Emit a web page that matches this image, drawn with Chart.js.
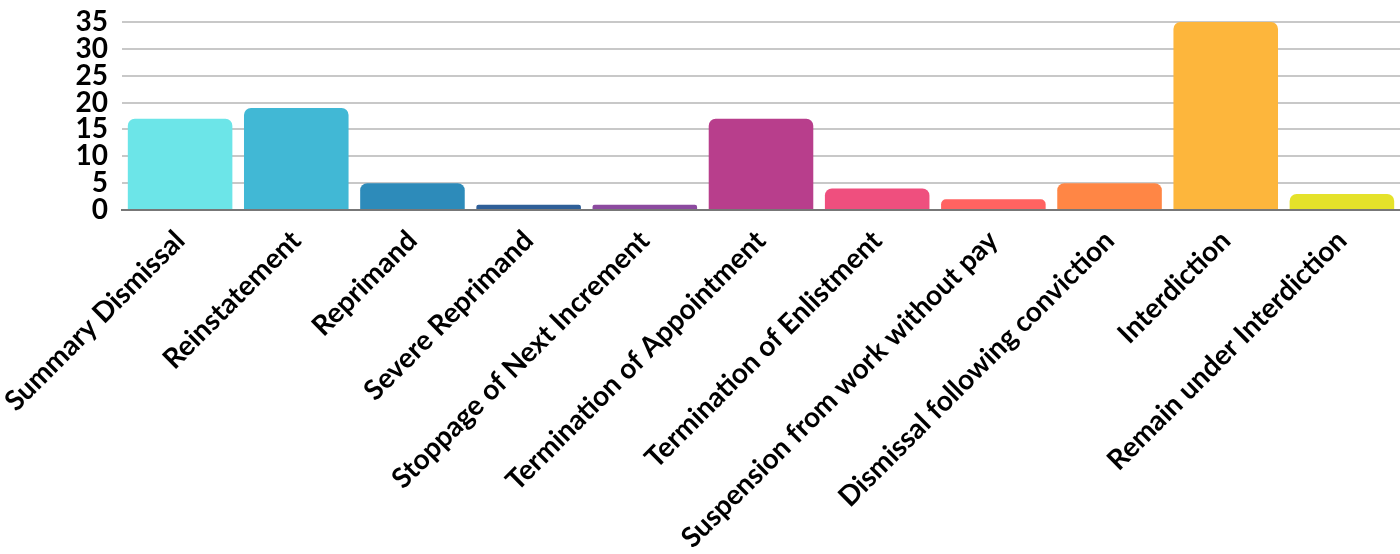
<!DOCTYPE html>
<html><head><meta charset="utf-8">
<script src="https://cdn.jsdelivr.net/npm/chart.js@4.4.1/dist/chart.umd.min.js"></script>
<style>html,body{margin:0;padding:0;background:#fff}#wrap{width:1400px;height:554px;position:relative}</style>
</head><body><div id="wrap"><canvas id="c"></canvas></div>
<script>
const categories = ["Summary Dismissal","Reinstatement","Reprimand","Severe Reprimand","Stoppage of Next Increment","Termination of Appointment","Termination of Enlistment","Suspension from work without pay","Dismissal following conviction","Interdiction","Remain under Interdiction"];
const values = [17,19,5,1,1,17,4,2,5,35,3];
const barColors = ["#6ce5e8","#41b8d5","#2d8bba","#2f5f98","#8c4a9f","#b83e8c","#ef4f7e","#ff6361","#ff8645","#fdb63c","#e5e22a"];
const yTicks = [0,5,10,15,20,25,30,35];

new Chart(document.getElementById('c'), {
  type: 'bar',
  data: { labels: categories, datasets: [{ data: values, backgroundColor: barColors, borderRadius: {topLeft:7,topRight:7}, borderSkipped: 'bottom', barPercentage: 0.9, categoryPercentage: 1 }] },
  options: {
    responsive: true, maintainAspectRatio: false, animation: false,
    layout: { padding: { top: 22, right: 0, left: 0, bottom: 0 } },
    plugins: { legend: { display: false }, tooltip: { enabled: false } },
    scales: {
      x: {
        afterFit: (s) => { s.height = 344; s.paddingLeft = 0; s.paddingRight = 0; s.paddingTop = 0; s.paddingBottom = 0; },
        grid: { display: false },
        border: { display: true, color: '#777', width: 2 },
        ticks: { color: '#000', font: { family: 'Lato', weight: 'bold', size: 28 }, maxRotation: 45, minRotation: 45, autoSkip: false, padding: 6 }
      },
      y: {
        min: 0, max: 35,
        afterFit: (s) => { s.width = 122; s.paddingTop = 0; s.paddingBottom = 0; },
        afterBuildTicks: (ax) => { ax.ticks = yTicks.map(v => ({ value: v })); },
        grid: { color: '#c8c8c8', lineWidth: 2, drawTicks: false },
        border: { display: false },
        ticks: { color: '#000', font: { family: 'Lato', weight: 'bold', size: 28, lineHeight: 1 }, padding: 14, autoSkip: false }
      }
    }
  }
});
</script></body></html>
